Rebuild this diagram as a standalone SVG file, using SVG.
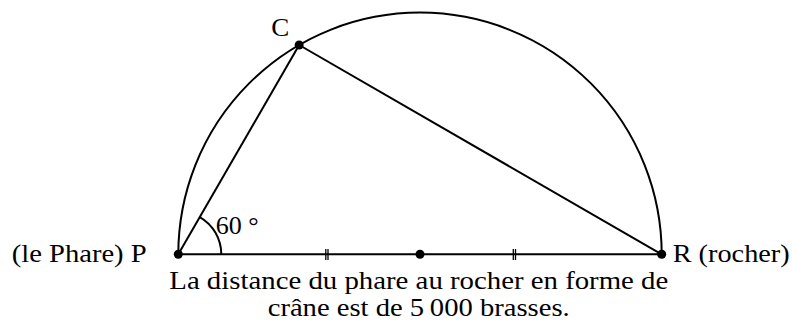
<svg xmlns="http://www.w3.org/2000/svg" width="792" height="327" viewBox="0 0 792 327">
  <style>
    .ln { fill: none; stroke: #000; stroke-width: 2; }
    .tk { fill: none; stroke: #000; stroke-width: 1.3; }
    .dot { fill: #000; }
    text { font-family: "Liberation Serif", "Times New Roman", serif; font-size: 24.5px; fill: #000; }
  </style>
  <rect width="792" height="327" fill="#fff"/>
  <g id="connectors">
    <path class="ln" d="M178.3,254.3 A241.7,241.7 0 0 1 661.7,254.3"/>
    <line class="ln" x1="178.3" y1="254.3" x2="661.7" y2="254.3"/>
    <line class="ln" x1="178.3" y1="254.3" x2="299.15" y2="45"/>
    <line class="ln" x1="299.15" y1="45" x2="661.7" y2="254.3"/>
    <path class="ln" d="M221.3,254.3 A43,43 0 0 0 199.8,217.1"/>
    <g id="ticks">
      <line class="tk" x1="325.8" y1="249" x2="325.8" y2="260"/>
      <line class="tk" x1="328" y1="249" x2="328" y2="260"/>
      <line class="tk" x1="513.3" y1="249" x2="513.3" y2="260"/>
      <line class="tk" x1="515.5" y1="249" x2="515.5" y2="260"/>
    </g>
  </g>
  <g id="P">
    <circle class="dot" cx="178.3" cy="254.3" r="4.5"/>
    <text x="11.7" y="262" textLength="135" lengthAdjust="spacingAndGlyphs">(le Phare) P</text>
  </g>
  <g id="R">
    <circle class="dot" cx="661.7" cy="254.3" r="4.5"/>
    <text x="672.7" y="261.7" textLength="117" lengthAdjust="spacingAndGlyphs">R (rocher)</text>
  </g>
  <g id="C">
    <circle class="dot" cx="299.15" cy="45" r="4.5"/>
    <text x="271.3" y="36" textLength="18" lengthAdjust="spacingAndGlyphs">C</text>
  </g>
  <g id="O">
    <circle class="dot" cx="420" cy="254.3" r="4.5"/>
  </g>
  <g id="angle">
    <text x="215.7" y="234.3" textLength="43" lengthAdjust="spacingAndGlyphs">60 °</text>
  </g>
  <g id="caption">
    <text x="169.3" y="289" textLength="499" lengthAdjust="spacingAndGlyphs">La distance du phare au rocher en forme de</text>
    <text x="267.7" y="315.5" textLength="302" lengthAdjust="spacingAndGlyphs">crâne est de 5&#8201;000 brasses.</text>
  </g>
</svg>
